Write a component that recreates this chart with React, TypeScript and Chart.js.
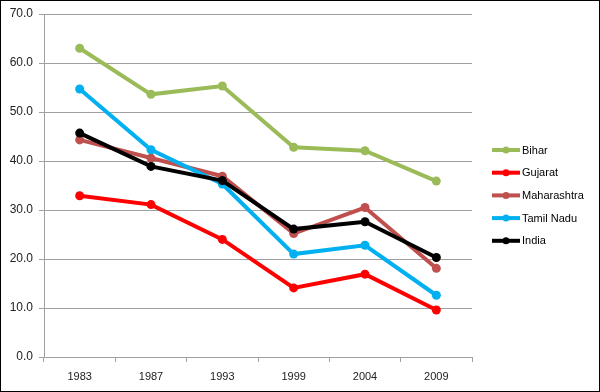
import React, { useEffect, useRef } from "react";
import { Chart, registerables } from "chart.js";

Chart.register(...registerables);

const years = ["1983", "1987", "1993", "1999", "2004", "2009"];
const bihar = [63.0, 53.6, 55.3, 42.8, 42.1, 35.9];
const gujarat = [32.9, 31.1, 24.0, 14.1, 16.9, 9.6];
const maharashtra = [44.3, 40.6, 36.9, 25.2, 30.5, 18.1];
const tamilNadu = [54.7, 42.3, 35.3, 21.0, 22.8, 12.6];
const india = [45.7, 38.9, 36.0, 26.1, 27.6, 20.3];

const seriesNames = ["Bihar", "Gujarat", "Maharashtra", "Tamil Nadu", "India"];
const seriesValues = [bihar, gujarat, maharashtra, tamilNadu, india];
const seriesColors = ["#9BBB59", "#FF0000", "#C0504D", "#00B0F0", "#000000"];

const FONT = "'Liberation Sans', Arial, sans-serif";

const legendAndFrame = {
  id: "legendAndFrame",
  afterDraw(chart: any) {
    const ctx = chart.ctx;
    ctx.save();
    const x0 = 492;
    const y0 = 150;
    const step = 22.7;
    chart.data.datasets.forEach((ds: any, i: number) => {
      const y = y0 + i * step;
      ctx.strokeStyle = ds.borderColor;
      ctx.lineWidth = 4;
      ctx.lineCap = "butt";
      ctx.beginPath();
      ctx.moveTo(x0, y);
      ctx.lineTo(x0 + 28, y);
      ctx.stroke();
      ctx.fillStyle = ds.borderColor;
      ctx.beginPath();
      ctx.arc(x0 + 14, y, 3.5, 0, Math.PI * 2);
      ctx.fill();
      ctx.fillStyle = "#000";
      ctx.font = `11px ${FONT}`;
      ctx.textAlign = "left";
      ctx.textBaseline = "middle";
      ctx.fillText(ds.label, x0 + 30, y + 0.5);
    });
    ctx.strokeStyle = "#000";
    ctx.lineWidth = 1;
    ctx.strokeRect(0.5, 0.5, chart.width - 1, chart.height - 1);
    ctx.restore();
  },
};

export default function App() {
  const ref = useRef<HTMLCanvasElement | null>(null);
  useEffect(() => {
    document.body.style.margin = "0";
    const canvas = ref.current!;
    const chart = new Chart(canvas, {
      type: "line",
      data: {
        labels: years,
        datasets: seriesNames.map((name, i) => ({
          label: name,
          data: seriesValues[i],
          borderColor: seriesColors[i],
          backgroundColor: seriesColors[i],
          borderWidth: 4,
          pointRadius: 4.5,
          pointBorderWidth: 0,
          pointBackgroundColor: seriesColors[i],
          tension: 0,
          order: seriesNames.length - i,
        })),
      },
      options: {
        responsive: false,
        animation: false,
        events: [],
        layout: { padding: { left: 0, right: 128, top: 14, bottom: 0 } },
        plugins: { legend: { display: false }, tooltip: { enabled: false } },
        scales: {
          x: {
            offset: true,
            grid: {
              offset: true,
              drawOnChartArea: false,
              drawTicks: true,
              tickLength: 5,
              color: "#a0a0a0",
            },
            border: { color: "#a0a0a0" },
            ticks: {
              color: "#222",
              font: { family: FONT, size: 11 },
              padding: 8,
              maxRotation: 0,
            },
            afterFit(scale: any) {
              scale.height = 35;
            },
          },
          y: {
            min: 0,
            max: 70,
            grid: { color: "#a0a0a0", tickLength: 5 },
            border: { color: "#a0a0a0" },
            ticks: {
              stepSize: 10,
              color: "#222",
              font: { family: FONT, size: 12 },
              padding: 6,
              callback: (v: any) => Number(v).toFixed(1),
            },
            afterFit(scale: any) {
              scale.width = 44;
            },
          },
        },
      },
      plugins: [legendAndFrame],
    });
    return () => chart.destroy();
  }, []);
  return (
    <div style={{ width: 600, height: 392 }}>
      <canvas ref={ref} width={600} height={392} style={{ display: "block" }} />
    </div>
  );
}
